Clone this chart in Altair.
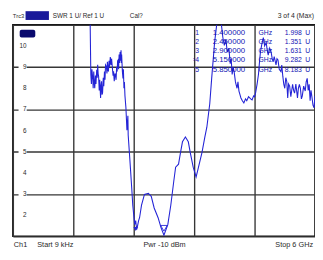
import altair as alt
import pandas as pd

# ---- data (SWR trace, 9 kHz .. 6 GHz) ----
freq_ghz = [0.000009, 1.50, 1.53,
            1.548, 1.560, 1.570, 1.587, 1.595, 1.606, 1.615, 1.626, 1.640, 1.650, 1.665, 1.675,
            1.684, 1.693, 1.703, 1.715, 1.725, 1.742, 1.750, 1.761, 1.770, 1.781, 1.795, 1.805,
            1.819, 1.830, 1.840, 1.858, 1.868, 1.877, 1.888, 1.897, 1.910, 1.920, 1.935, 1.950,
            1.960, 1.974, 1.990, 2.000, 2.013, 2.022, 2.032, 2.050, 2.060, 2.071, 2.080, 2.090,
            2.100, 2.110, 2.120, 2.129, 2.138, 2.148, 2.155, 2.160, 2.168, 2.175, 2.187, 2.195,
            2.206, 2.215, 2.226, 2.245, 2.265, 2.284, 2.290, 2.323, 2.361, 2.381,
            2.400, 2.419, 2.439, 2.458, 2.477, 2.497, 2.516, 2.555, 2.613, 2.690, 2.748, 2.806,
            2.884, 2.942, 3.000, 3.077, 3.136, 3.194, 3.232, 3.290, 3.329, 3.368, 3.426, 3.484,
            3.523, 3.581, 3.639, 3.677, 3.755, 3.813, 3.852, 3.910, 3.948, 4.006, 4.045, 4.084,
            4.142, 4.170, 4.200, 4.230, 4.258, 4.290, 4.316, 4.335, 4.355, 4.375, 4.394, 4.420,
            4.452, 4.470, 4.490, 4.510, 4.529, 4.560, 4.587, 4.620, 4.645, 4.680, 4.723, 4.750,
            4.781, 4.800, 4.819, 4.850, 4.877, 4.900, 4.916, 4.945, 4.974, 5.000, 5.032, 5.050,
            5.071, 5.100, 5.129, 5.150, 5.168, 5.190, 5.226, 5.245, 5.265, 5.290, 5.323, 5.340,
            5.361, 5.380, 5.400, 5.420, 5.439, 5.458, 5.475, 5.497, 5.520, 5.555, 5.575, 5.594,
            5.620, 5.652, 5.670, 5.690, 5.710, 5.730, 5.748, 5.775, 5.806, 5.825, 5.845, 5.865,
            5.884, 5.903, 5.920, 5.942, 5.960, 5.981, 6.000]
swr_u = [20.0, 20.0, 12.0,
         8.65, 8.20, 8.90, 8.42, 8.00, 8.79, 8.30, 8.00, 8.60, 8.20, 8.88, 8.50,
         9.11, 8.70, 8.56, 7.90, 8.40, 7.54, 8.10, 8.33, 7.70, 7.77, 8.50, 8.10,
         8.79, 8.40, 9.10, 9.02, 8.70, 9.25, 8.90, 8.79, 9.30, 9.00, 9.48, 9.10,
         9.40, 9.02, 8.60, 8.80, 8.33, 8.60, 8.70, 8.40, 9.00, 8.79, 9.30, 9.34,
         8.90, 9.60, 9.20, 9.71, 9.30, 9.80, 9.20, 9.60, 9.16, 8.80, 8.47, 8.90,
         8.00, 8.30, 7.64, 7.08, 6.02, 6.70, 5.79, 4.64, 3.26, 2.47,
         2.01, 1.55, 1.74, 1.32, 1.51, 1.74, 1.88, 2.47, 2.98, 3.03, 2.89, 2.34,
         1.88, 1.41, 1.05, 1.55, 2.47, 3.58, 4.27, 4.41, 4.96, 5.47, 5.70, 5.47,
         4.96, 4.27, 3.81, 4.18, 4.96, 5.70, 6.16, 7.27, 8.47, 10.17, 10.95, 11.30,
         11.00, 10.40, 10.03, 10.30, 9.71, 9.90, 9.16, 9.40, 8.65, 9.00, 8.79, 8.30,
         8.00, 8.30, 7.87, 7.70, 7.54, 7.40, 7.31, 7.50, 7.41, 7.60, 7.50, 7.45,
         7.64, 7.60, 7.77, 8.20, 8.65, 9.30, 9.71, 10.10, 10.40, 10.00, 10.17, 9.80,
         9.57, 9.90, 9.71, 9.40, 9.25, 9.50, 9.11, 9.40, 9.34, 8.90, 8.79, 9.10,
         8.56, 8.20, 8.00, 8.50, 8.33, 7.54, 8.20, 8.10, 7.60, 8.19, 7.90, 7.77,
         8.20, 7.54, 8.00, 8.19, 8.00, 7.50, 7.64, 8.10, 7.87, 8.30, 8.47, 7.90,
         8.19, 7.41, 7.90, 7.54, 7.20, 7.08, 7.64]

# marker symbols near the minima
mk_freq = [2.44, 3.00]
mk_u = [1.35, 1.38]
mk_filled = [True, False]

y_ticks = [2, 3, 4, 5, 6, 7, 8, 9, 10]
y_grid = [1, 2, 3, 4, 5, 6, 7, 8, 9, 10, 11]
x_grid = [0.0, 0.6, 1.2, 1.8, 2.4, 3.0, 3.6, 4.2, 4.8, 5.4, 6.0]

marker_ids = ["1", "2", "3", "›4", "5"]
marker_freqs = ["1.400000", "2.450000", "2.900000", "5.150000", "5.850000"]
marker_vals = ["1.998", "1.351", "1.631", "9.282", "8.183"]

header_left = ["Trc3", "SWR 1 U/ Ref 1 U", "Cal?"]
header_right = "3 of 4 (Max)"
footer = ["Ch1", "Start 9 kHz", "Pwr -10 dBm", "Stop 6 GHz"]

FONT = "Liberation Sans"
TXT = "#2a2a2a"
BLUE = "#2424d6"
MBLUE = "#1414b4"
GRID = "#363636"

df = pd.DataFrame({"f": freq_ghz, "u": swr_u})
xs = alt.Scale(domain=[0, 6], nice=False, zero=False)
ys = alt.Scale(domain=[1, 11], nice=False, zero=False)

trace = alt.Chart(df).mark_line(color=BLUE, strokeWidth=1.1, clip=True).encode(
    x=alt.X("f:Q", scale=xs,
            axis=alt.Axis(values=x_grid, grid=True, gridColor=GRID, gridWidth=1.4, gridOpacity=1,
                          labels=False, ticks=False, domain=False, title=None)),
    y=alt.Y("u:Q", scale=ys,
            axis=alt.Axis(values=y_grid, grid=True, gridColor=GRID, gridWidth=1.4, gridOpacity=1,
                          labels=False, ticks=False, domain=False, title=None)),
)

mk_df = pd.DataFrame({"f": mk_freq, "u": mk_u, "filled": mk_filled})
mk_solid = alt.Chart(mk_df[mk_df["filled"]]).mark_point(
    shape="triangle-down", filled=True, color=BLUE, size=22, opacity=1).encode(
    x=alt.X("f:Q", scale=xs), y=alt.Y("u:Q", scale=ys))
mk_open = alt.Chart(mk_df[~mk_df["filled"]]).mark_point(
    shape="triangle-down", filled=False, color=BLUE, size=45, strokeWidth=0.9, opacity=1).encode(
    x=alt.X("f:Q", scale=xs), y=alt.Y("u:Q", scale=ys))

tick_df = pd.DataFrame({"u": y_ticks, "lab": [str(v) for v in y_ticks]})
label_bg = alt.Chart(tick_df).mark_square(color="white", size=70, opacity=1).encode(
    x=alt.value(10), y=alt.Y("u:Q", scale=ys))
label_txt = alt.Chart(tick_df).mark_text(align="right", baseline="middle", font=FONT,
                                         fontSize=6.5, color=TXT).encode(
    x=alt.value(14), y=alt.Y("u:Q", scale=ys), text="lab:N")

layers = [trace, mk_solid, mk_open, label_bg, label_txt]

# navy box inside plot and in header
layers.append(alt.Chart(pd.DataFrame({"a": [0]})).mark_rect(color="#0a0a6e", cornerRadius=2).encode(
    x=alt.value(7), x2=alt.value(23), y=alt.value(5), y2=alt.value(13)))
layers.append(alt.Chart(pd.DataFrame({"a": [0]})).mark_rect(color="#1a1a9a").encode(
    x=alt.value(13), x2=alt.value(37), y=alt.value(-14), y2=alt.value(-5)))

def txt(s, x, y, align="left", color=TXT, size=7):
    return alt.Chart(pd.DataFrame({"t": [s]})).mark_text(
        align=align, baseline="middle", font=FONT, fontSize=size, color=color).encode(
        x=alt.value(x), y=alt.value(y), text="t:N")

hx = [0, 41, 120]
hs = [6, 6.5, 6.5]
for s, x, z in zip(header_left, hx, hs):
    layers.append(txt(s, x, -9, size=z))
layers.append(txt(header_right, 309, -9, align="right", size=7))

fx = [1, 25, 134]
for s, x in zip(footer[:3], fx):
    layers.append(txt(s, x, 226, size=7.5))
layers.append(txt(footer[3], 308, 226, align="right", size=7.5))

row_y = [8, 17.5, 27, 36.5, 46]
for i in range(5):
    y = row_y[i]
    layers.append(txt(marker_ids[i], 191, y, align="right", color=MBLUE))
    layers.append(txt(marker_freqs[i], 205, y, color=MBLUE, size=8))
    layers.append(txt("GHz", 252, y, color=MBLUE))
    layers.append(txt(marker_vals[i], 279, y, color=MBLUE))
    layers.append(txt("U", 300, y, color=MBLUE))

chart = alt.layer(*layers).properties(
    width=310, height=217,
    autosize=alt.AutoSizeParams(type="none"),
    padding={"left": 5, "top": 14, "right": 0, "bottom": 20},
    background="white",
).configure_view(stroke="#111111", strokeWidth=1.6)

chart.save("out.html", embed_options={"renderer": "svg", "actions": False})
